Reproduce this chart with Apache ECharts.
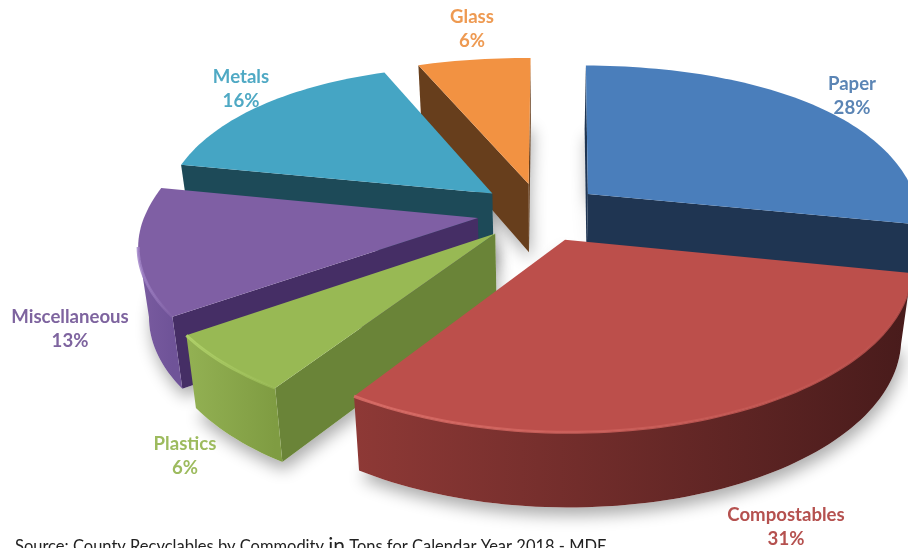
<!DOCTYPE html>
<html>
<head>
<meta charset="utf-8">
<style>html,body{margin:0;padding:0;background:#fff}#chart{width:908px;height:548px;overflow:hidden}</style>
<script src="https://cdn.jsdelivr.net/npm/echarts@6/dist/echarts.min.js"></script>
</head>
<body>
<div id="chart"></div>
<script>
// Share of recyclables by commodity, percent
const categories = ['Paper', 'Compostables', 'Plastics', 'Miscellaneous', 'Metals', 'Glass'];
const shares = [28, 31, 6, 13, 16, 6];
const sourceBefore = 'Source: County Recyclables by Commodity ';
const sourceWord = 'in';
const sourceAfter = ' Tons for Calendar Year 2018 - MDE';

// Face colours per commodity
const topColors = ['#4A7EBB', '#BC4F4B', '#98B954', '#7F5FA4', '#45A5C4', '#F29242'];
const cutColors = ['#1F3552', '#7A2F2D', '#6A8438', '#452E65', '#1D4A58', '#673E1C'];
const rimFrom = ['#3A6595', '#8E3936', '#93B153', '#7A5CA0', '#3A8CA6', '#C9762F'];
const rimTo = ['#1F3552', '#481B1B', '#7F9C42', '#6F5398', '#1D4A58', '#673E1C'];
const rimGlint = ['#6E9AD0', '#DB6E68', '#B4D66C', '#A285C8', '#6FC3DC', '#FFB070'];
const labelColors = ['#5B85B5', '#B5514F', '#9DBB5E', '#7E649F', '#4FA9C4', '#EE9A52'];
const labelAnchors = [[852, 96], [786, 527], [185, 456], [70, 329], [241, 89], [472, 29]];

// Perspective model of the tilted, exploded disc
const view = { cx: 540, cy: 212, rx: 332, ry: 153.5, persp: 0.154, skew: 3, backWiden: 0.06, explode: 0.19, thick: 69, converge: 0.027, rotate: 0.7 };
const RAD = Math.PI / 180;

function toScreen(u, v) {
  const w = 1 - view.persp * v;
  const back = Math.min(v, 0);
  const su = u * (1 + view.backWiden * back * back);
  return [view.cx + (view.rx * su + view.skew * back) / w, view.cy + view.ry * v / w];
}
function dropped(u, v) {
  const p = toScreen(u, v);
  return [p[0] + (view.cx - p[0]) * view.converge, p[1] + view.thick / (1 - 0.07 * v)];
}

// Turn shares into wedge angles, then order wedges from back to front
const total = shares.reduce((a, b) => a + b, 0);
let running = view.rotate;
const wedges = shares.map((s, i) => {
  const from = running;
  const to = running + s / total * 360;
  running = to;
  const mid = (from + to) / 2 * RAD;
  return { i, from, to, ou: view.explode * Math.sin(mid), ov: -view.explode * Math.cos(mid) };
});
const paintOrder = wedges.slice().sort((a, b) => a.ov - b.ov).map(w => w.i);

function rimPoints(w) {
  const pts = [];
  const n = Math.ceil((w.to - w.from) / 1.5);
  for (let k = 0; k <= n; k++) {
    const t = (w.from + (w.to - w.from) * k / n) * RAD;
    pts.push([w.ou + Math.sin(t), w.ov - Math.cos(t)]);
  }
  return pts;
}
function hGradient(x0, x1, c0, c1) {
  return { type: 'linear', x: x0, y: 0, x2: x1, y2: 0, global: true,
    colorStops: [{ offset: 0, color: c0 }, { offset: 1, color: c1 }] };
}

function renderShadow(params, api) {
  const w = wedges[api.value(0)];
  const rim = rimPoints(w);
  const pts = [toScreen(w.ou, w.ov), dropped(w.ou, w.ov)]
    .concat(rim.map(p => dropped(p[0], p[1])));
  return { type: 'polygon', shape: { points: pts }, silent: true,
    style: { fill: '#fff', shadowBlur: 16, shadowColor: 'rgba(0,0,0,0.33)', shadowOffsetY: 8, shadowOffsetX: 2 } };
}

function renderWedge(params, api) {
  const idx = api.value(0);
  const w = wedges[idx];
  const rim = rimPoints(w);
  const apex = [w.ou, w.ov];
  const topRim = rim.map(p => toScreen(p[0], p[1]));
  const apexTop = toScreen(apex[0], apex[1]);
  const children = [];

  // Cut faces along the two straight edges, only when turned toward the viewer
  const cutFace = (g) => {
    const gp = toScreen(g[0], g[1]);
    return { type: 'polygon', shape: { points: [apexTop, gp, dropped(g[0], g[1]), dropped(apex[0], apex[1])] },
      style: { fill: cutColors[idx] } };
  };
  const first = rim[0], last = rim[rim.length - 1];
  if (topRim[0][0] < apexTop[0]) children.push(cutFace(first));
  if (topRim[topRim.length - 1][0] > apexTop[0]) children.push(cutFace(last));

  // Outer wall: the run of rim segments that faces the viewer
  const vis = [];
  for (let k = 0; k < rim.length - 1; k++) {
    if (topRim[k + 1][0] < topRim[k][0]) {
      if (!vis.length || vis[vis.length - 1] !== k) vis.push(k);
      vis.push(k + 1);
    }
  }
  if (vis.length) {
    const upper = vis.map(k => topRim[k]);
    const lower = vis.map(k => dropped(rim[k][0], rim[k][1])).reverse();
    const xs = upper.map(p => p[0]);
    const left = Math.min.apply(null, xs), right = Math.max.apply(null, xs);
    children.push({ type: 'polygon', shape: { points: upper.concat(lower) },
      style: { fill: hGradient(left, right, rimFrom[idx], rimTo[idx]) } });
  }

  // Top face
  children.push({ type: 'polygon', shape: { points: [apexTop].concat(topRim) },
    style: { fill: topColors[idx] } });

  // Light bevel along the front of the top face
  if (vis.length) {
    const upper = vis.map(k => topRim[k]);
    const xs = upper.map(p => p[0]);
    const left = Math.min.apply(null, xs), right = Math.max.apply(null, xs);
    children.push({ type: 'polyline', shape: { points: upper },
      style: { fill: null, lineWidth: 3, opacity: 0.85, stroke: hGradient(left, right, rimGlint[idx], topColors[idx]) } });
  }
  return { type: 'group', silent: true, children };
}

function renderLabel(params, api) {
  const idx = api.value(0);
  const a = labelAnchors[idx];
  return { type: 'text', silent: true, x: a[0], y: a[1],
    style: { text: categories[idx] + '\n' + shares[idx] + '%', fill: labelColors[idx], align: 'center', verticalAlign: 'middle',
      font: 'bold 18.6px Lato', lineHeight: 24 } };
}

const chart = echarts.init(document.getElementById('chart'), null, { renderer: 'canvas' });
const orderData = paintOrder.map(i => [i]);
chart.setOption({
  animation: false,
  backgroundColor: '#fff',
  title: {
    left: 15, top: 536, padding: 0,
    text: '{a|' + sourceBefore + '}{b|' + sourceWord + '}{a|' + sourceAfter + '}',
    textStyle: { fontWeight: 'normal', rich: {
      a: { fontFamily: 'Lato', fontWeight: 'normal', fontSize: 16.5, color: '#222' },
      b: { fontFamily: 'Lato', fontWeight: 'normal', fontSize: 21, color: '#222' }
    } }
  },
  series: [
    { type: 'custom', coordinateSystem: 'none', renderItem: renderShadow, data: orderData, z: 1 },
    { type: 'custom', coordinateSystem: 'none', renderItem: renderWedge, data: orderData, z: 2 },
    { type: 'custom', coordinateSystem: 'none', renderItem: renderLabel, data: categories.map((c, i) => [i]), z: 3 }
  ]
});
</script>
</body>
</html>
